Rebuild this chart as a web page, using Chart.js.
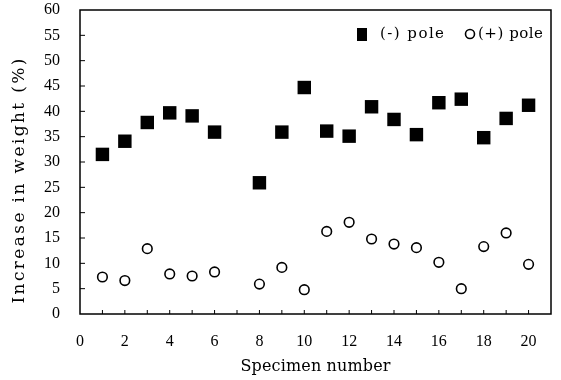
<!DOCTYPE html>
<html>
<head>
<meta charset="utf-8">
<script src="https://cdn.jsdelivr.net/npm/chart.js@4.4.1/dist/chart.umd.min.js"></script>
<style>
  html, body { margin: 0; padding: 0; background: #fff; }
  #wrap { width: 561px; height: 380px; }
</style>
</head>
<body>
<div id="wrap"><canvas id="chart" width="561" height="380"></canvas></div>
<script>
// specimen numbers (7 is missing in the figure)
const specimens = [1, 2, 3, 4, 5, 6, 8, 9, 10, 11, 12, 13, 14, 15, 16, 17, 18, 19, 20];
const negPole = [31.5, 34.1, 37.8, 39.7, 39.1, 35.9, 25.9, 35.9, 44.7, 36.1, 35.1, 40.9, 38.4, 35.4, 41.7, 42.4, 34.8, 38.6, 41.2];
const posPole = [7.3, 6.6, 12.9, 7.9, 7.5, 8.3, 5.9, 9.2, 4.8, 16.3, 18.1, 14.8, 13.8, 13.1, 10.2, 5.0, 13.3, 16.0, 9.8];
const legendLabels = ['(-) pole', '(+) pole'];
const xTitle = 'Specimen number';
const yTitle = 'Increase in weight (%)';

const FONT = '"DejaVu Serif", "Liberation Serif", serif';
const TICKFONT = '"Liberation Serif", "DejaVu Serif", serif';

const pts = (ys) => specimens.map((x, i) => ({ x: x, y: ys[i] }));

// the original uses a wide typewriter-like face: spread letters to the wanted width
function spreadText(ctx, text, x, y, width, align) {
  ctx.letterSpacing = '0px';
  const w = ctx.measureText(text).width;
  const gap = (width - w) / (text.length - 1);
  let cx = align === 'center' ? x - width / 2 : x;
  ctx.textAlign = 'left';
  for (const ch of text) {
    ctx.fillText(ch, cx, y);
    cx += ctx.measureText(ch).width + gap;
  }
}

// box frame, inward tick marks, titles and the legend inside the plot
const framePlugin = {
  id: 'frame',
  afterDraw(chart) {
    const ctx = chart.ctx;
    const a = chart.chartArea;
    const xs = chart.scales.x, ys = chart.scales.y;
    ctx.save();
    ctx.strokeStyle = '#000';
    ctx.lineWidth = 1.5;
    ctx.strokeRect(a.left, a.top, a.right - a.left, a.bottom - a.top);
    ctx.lineWidth = 1;
    ctx.beginPath();
    for (let v = 1; v <= 20; v++) {
      const px = xs.getPixelForValue(v);
      ctx.moveTo(px, a.bottom);
      ctx.lineTo(px, a.bottom - 4);
    }
    for (let v = 5; v < 60; v += 5) {
      const py = ys.getPixelForValue(v);
      ctx.moveTo(a.left, py);
      ctx.lineTo(a.left + 5, py);
    }
    ctx.stroke();

    ctx.fillStyle = '#000';
    ctx.textBaseline = 'middle';

    // axis titles
    ctx.font = '16px ' + FONT;
    spreadText(ctx, xTitle, (a.left + a.right) / 2, 367, 150, 'center');
    ctx.save();
    ctx.translate(20, a.top + 171);
    ctx.rotate(-Math.PI / 2);
    ctx.font = '17px ' + FONT;
    spreadText(ctx, yTitle, 0, 0, 245, 'center');
    ctx.restore();

    // legend
    ctx.font = '15px ' + FONT;
    const ly = a.top + 24;
    ctx.fillRect(357, ly - 6, 10, 13);
    spreadText(ctx, legendLabels[0], 380, ly, 64, 'left');
    ctx.beginPath();
    ctx.lineWidth = 1.6;
    ctx.arc(470, ly, 4.5, 0, Math.PI * 2);
    ctx.stroke();
    spreadText(ctx, legendLabels[1], 478, ly, 65, 'left');
    ctx.restore();
  }
};

new Chart(document.getElementById('chart'), {
  type: 'scatter',
  data: {
    datasets: [
      {
        label: legendLabels[0],
        data: pts(negPole),
        pointStyle: 'rect',
        pointRadius: 9.5,
        backgroundColor: '#000',
        borderColor: '#000',
        borderWidth: 0
      },
      {
        label: legendLabels[1],
        data: pts(posPole),
        pointStyle: 'circle',
        pointRadius: 4.8,
        backgroundColor: '#fff',
        borderColor: '#000',
        borderWidth: 1.6
      }
    ]
  },
  options: {
    responsive: false,
    animation: false,
    layout: { autoPadding: false, padding: { left: 0, right: 10, top: 0, bottom: 0 } },
    plugins: {
      legend: { display: false },
      tooltip: { enabled: false }
    },
    scales: {
      x: {
        type: 'linear',
        min: 0,
        max: 21,
        grid: { display: false },
        border: { display: false },
        afterFit(s) { s.height = 66; },
        ticks: {
          stepSize: 1,
          autoSkip: false,
          maxRotation: 0,
          padding: 10,
          color: '#000',
          font: { family: TICKFONT, size: 16 },
          callback: (v) => (v % 2 === 0 && v <= 20 ? v : '')
        },
        title: { display: false, text: xTitle }
      },
      y: {
        min: 0,
        max: 60,
        grid: { display: false },
        border: { display: false },
        afterFit(s) { s.width = 80; s.paddingTop = 10; },
        ticks: {
          stepSize: 5,
          padding: 12,
          color: '#000',
          font: { family: TICKFONT, size: 16 }
        },
        title: { display: false, text: yTitle }
      }
    }
  },
  plugins: [framePlugin]
});
</script>
</body>
</html>
